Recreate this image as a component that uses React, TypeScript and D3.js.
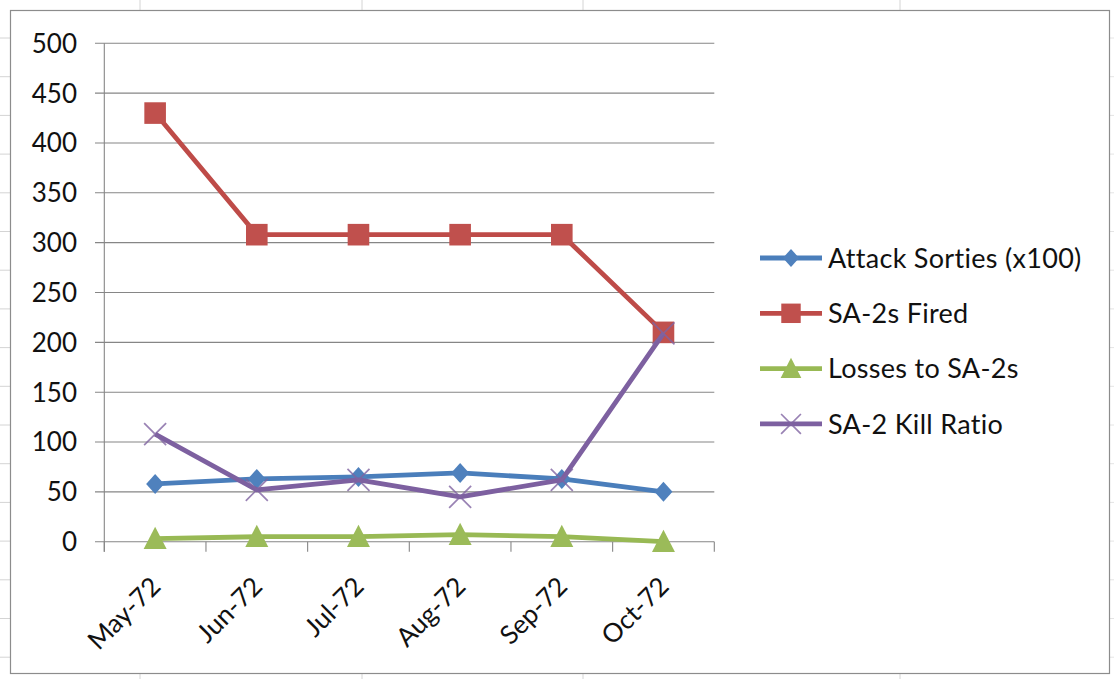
import React from "react";
import * as d3 from "d3";

const categories = ["May-72", "Jun-72", "Jul-72", "Aug-72", "Sep-72", "Oct-72"];
const attackSorties = [58, 63, 65, 69, 63, 50];
const sa2Fired = [430, 308, 308, 308, 308, 210];
const lossesToSa2 = [3, 5, 5, 7, 5, 0];
const killRatio = [108, 52, 62, 45, 62, 209];
const yTicks = [0, 50, 100, 150, 200, 250, 300, 350, 400, 450, 500];

const seriesNames = ["Attack Sorties (x100)", "SA-2s Fired", "Losses to SA-2s", "SA-2 Kill Ratio"];
const seriesValues = [attackSorties, sa2Fired, lossesToSa2, killRatio];
const seriesLine = ["#4a7ebb", "#be4b48", "#98b954", "#7d60a0"];
const seriesFill = ["#4f81bd", "#c0504d", "#9bbb59", "#8064a2"];
const seriesMarker = ["diamond", "square", "triangle", "x"];

const W = 1114;
const H = 679;
const FONT = "Lato, 'Open Sans', sans-serif";

function Marker({ kind, x, y, fill, scale = 1 }: { kind: string; x: number; y: number; fill: string; scale?: number }) {
  if (kind === "diamond") {
    const w = 9 * scale, h = 10 * scale;
    return <path d={`M${x},${y - h}L${x + w},${y}L${x},${y + h}L${x - w},${y}Z`} fill={fill} />;
  }
  if (kind === "square") {
    const s = 10.8 * scale;
    return <rect x={x - s} y={y - s} width={2 * s} height={2 * s} fill={fill} />;
  }
  if (kind === "triangle") {
    const s = 11.5 * scale;
    return <path d={`M${x},${y - s * 1.05}L${x + s},${y + s * 0.9}L${x - s},${y + s * 0.9}Z`} fill={fill} />;
  }
  const s = 11 * scale;
  return (
    <path
      d={`M${x - s},${y - s}L${x + s},${y + s}M${x - s},${y + s}L${x + s},${y - s}`}
      stroke={fill}
      strokeWidth={1.7}
      opacity={0.8}
    />
  );
}

export default function App() {
  const x = d3.scaleBand<string>().domain(categories).range([104.3, 714.3]);
  const y = d3.scaleLinear().domain([0, 500]).range([541.7, 43.3]);
  const cx = (c: string) => (x(c) as number) + x.bandwidth() / 2;
  const line = d3
    .line<number>()
    .x((_, i) => cx(categories[i]))
    .y((v) => y(v));

  const sheetCols = [140, 362, 583, 900];
  const sheetRows = d3.range(0, 17).map((k) => 38 + k * 38.7);
  const boundaries = d3.range(0, categories.length + 1).map((i) => 104.3 + i * x.bandwidth());

  const legendX = 760;
  const legendY0 = 258;
  const legendStep = 55.3;

  return (
    <div style={{ position: "fixed", left: 0, top: 0, width: W, height: H, background: "#fff" }}>
      <svg width={W} height={H} style={{ display: "block", fontFamily: FONT }}>
        <rect x={0} y={0} width={W} height={H} fill="#fff" />
        {sheetCols.map((c) => (
          <g key={"c" + c}>
            <line x1={c} x2={c} y1={0} y2={10} stroke="#d4d4d4" />
            <line x1={c} x2={c} y1={674} y2={H} stroke="#d4d4d4" />
          </g>
        ))}
        {sheetRows.map((r) => (
          <g key={"r" + r}>
            <line x1={0} x2={10} y1={r} y2={r} stroke="#d4d4d4" />
            <line x1={1110} x2={W} y1={r} y2={r} stroke="#e4e4e4" />
          </g>
        ))}
        <rect x={10.5} y={10.5} width={1099} height={663} fill="#fff" stroke="#8c8c8c" strokeWidth={1.2} />

        {yTicks.map((t) => (
          <line key={t} x1={95} x2={714.3} y1={y(t)} y2={y(t)} stroke="#868686" strokeWidth={1.1} />
        ))}
        <line x1={104.3} x2={104.3} y1={y(500)} y2={y(0) + 10} stroke="#868686" strokeWidth={1.1} />
        {boundaries.map((b) => (
          <line key={b} x1={b} x2={b} y1={y(0)} y2={y(0) + 10} stroke="#868686" strokeWidth={1.1} />
        ))}
        {yTicks.map((t) => (
          <text key={t} x={77} y={y(t)} dy="0.36em" textAnchor="end" fontSize={26} fill="#111">
            {t}
          </text>
        ))}
        {categories.map((c) => (
          <text
            key={c}
            transform={`translate(${cx(c) + 7},${588}) rotate(-45)`}
            textAnchor="end"
            fontSize={26}
            fill="#111"
          >
            {c}
          </text>
        ))}

        {seriesValues.map((vals, si) => (
          <g key={si}>
            <path d={line(vals) || ""} fill="none" stroke={seriesLine[si]} strokeWidth={4.8} strokeLinejoin="round" />
            {vals.map((v, i) => (
              <Marker key={i} kind={seriesMarker[si]} x={cx(categories[i])} y={y(v)} fill={seriesFill[si]} />
            ))}
          </g>
        ))}

        {seriesNames.map((n, si) => {
          const ly = legendY0 + si * legendStep;
          return (
            <g key={n}>
              <line x1={legendX} x2={legendX + 62} y1={ly} y2={ly} stroke={seriesLine[si]} strokeWidth={4.8} />
              <Marker kind={seriesMarker[si]} x={legendX + 31} y={ly} fill={seriesFill[si]} scale={0.9} />
              <text x={legendX + 68} y={ly} dy="0.36em" fontSize={27} letterSpacing={0.3} fill="#111">
                {n}
              </text>
            </g>
          );
        })}
      </svg>
    </div>
  );
}
